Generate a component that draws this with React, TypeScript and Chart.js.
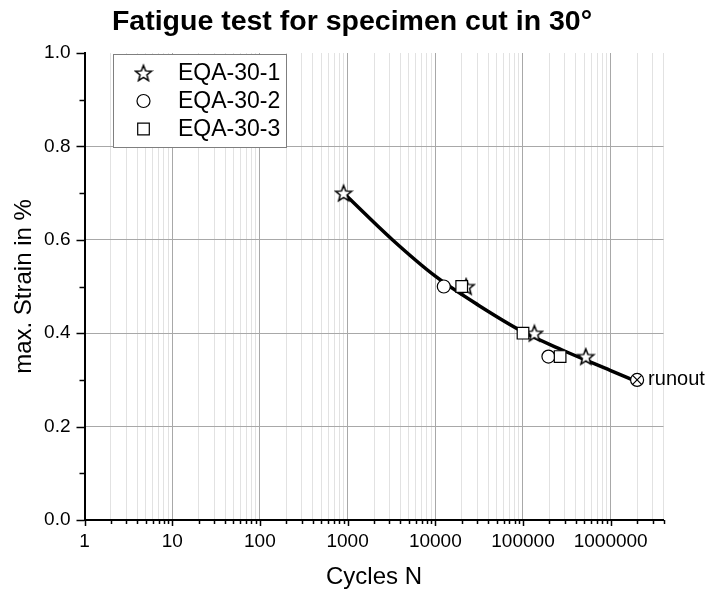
import React, { useEffect, useRef } from 'react';
import { Chart, registerables } from 'chart.js';

Chart.register(...registerables);

const TITLE = 'Fatigue test for specimen cut in 30°';
const X_TITLE = 'Cycles N';
const Y_TITLE = 'max. Strain in %';
const SERIES_NAMES = ['EQA-30-1', 'EQA-30-2', 'EQA-30-3'];
const RUNOUT_LABEL = 'runout';

// EQA-30-1 (stars)
const eqa1N = [900, 22500, 135000, 520000];
const eqa1S = [0.7, 0.5, 0.4, 0.35];
// EQA-30-2 (circles)
const eqa2N = [12500, 195000];
const eqa2S = [0.5, 0.35];
// EQA-30-3 (squares)
const eqa3N = [20000, 100000, 265000];
const eqa3S = [0.5, 0.4, 0.35];
// runout point
const runoutN = [2000000];
const runoutS = [0.3];
// fitted curve
const fitN = [900, 3240, 10000, 31000, 100000, 280000, 1000000, 2000000];
const fitS = [0.7, 0.6, 0.522, 0.46, 0.403, 0.364, 0.32, 0.296];

const X_MIN = 1;
const X_MAX = 4000000;
const xDecades = [1, 10, 100, 1000, 10000, 100000, 1000000];
const xMultipliers = [1, 2, 3, 4, 5, 6, 7, 8, 9];
const Y_MIN = 0;
const Y_MAX = 1;
const Y_STEP = 0.2;
const yMinorTicks = [0.1, 0.3, 0.5, 0.7, 0.9];

const FONT = "'Liberation Sans', Arial, sans-serif";

const xTickValues: number[] = [];
xDecades.forEach((d) => {
  xMultipliers.forEach((m) => {
    const v = m * d;
    if (v <= X_MAX) xTickValues.push(v);
  });
});

const isDecade = (v: number) => {
  const l = Math.log10(v);
  return Math.abs(l - Math.round(l)) < 1e-9;
};

function makeStar(): HTMLCanvasElement {
  const c = document.createElement('canvas');
  const s = 20;
  c.width = s;
  c.height = s;
  const ctx = c.getContext('2d')!;
  const cx = s / 2;
  const cy = s / 2 + 0.8;
  const R = 8.4;
  const r = 3.6;
  ctx.beginPath();
  for (let i = 0; i < 10; i++) {
    const rad = i % 2 === 0 ? R : r;
    const a = -Math.PI / 2 + (i * Math.PI) / 5;
    const x = cx + rad * Math.cos(a);
    const y = cy + rad * Math.sin(a);
    if (i === 0) ctx.moveTo(x, y);
    else ctx.lineTo(x, y);
  }
  ctx.closePath();
  ctx.fillStyle = '#ffffff';
  ctx.fill();
  ctx.lineJoin = 'miter';
  ctx.lineWidth = 1.5;
  ctx.strokeStyle = '#000000';
  ctx.stroke();
  return c;
}

const toPts = (xs: number[], ys: number[]) => xs.map((x, i) => ({ x, y: ys[i] }));

export default function App() {
  const ref = useRef<HTMLCanvasElement | null>(null);

  useEffect(() => {
    if (!ref.current) return;
    const star = makeStar();

    const overlay = {
      id: 'overlay',
      afterDraw(chart: any) {
        const ctx = chart.ctx as CanvasRenderingContext2D;
        const xs = chart.scales.x;
        const ys = chart.scales.y;
        const area = chart.chartArea;
        ctx.save();
        // title
        ctx.fillStyle = '#000';
        ctx.font = `bold 28.5px ${FONT}`;
        ctx.textAlign = 'center';
        ctx.textBaseline = 'middle';
        ctx.fillText(TITLE, 352, 22);

        // x ticks
        ctx.strokeStyle = '#000';
        ctx.lineWidth = 1.5;
        xTickValues.forEach((v) => {
          const px = Math.round(xs.getPixelForValue(v)) + 0.5;
          const len = isDecade(v) ? 6 : 4;
          ctx.beginPath();
          ctx.moveTo(px, area.bottom);
          ctx.lineTo(px, area.bottom + len);
          ctx.stroke();
        });
        // y ticks
        const yMajor: number[] = [];
        for (let v = Y_MIN; v <= Y_MAX + 1e-9; v += Y_STEP) yMajor.push(v);
        yMajor.forEach((v) => {
          const py = Math.round(ys.getPixelForValue(v)) + 0.5;
          ctx.beginPath();
          ctx.moveTo(area.left - 8, py);
          ctx.lineTo(area.left, py);
          ctx.stroke();
        });
        yMinorTicks.forEach((v) => {
          const py = Math.round(ys.getPixelForValue(v)) + 0.5;
          ctx.beginPath();
          ctx.moveTo(area.left - 5, py);
          ctx.lineTo(area.left, py);
          ctx.stroke();
        });

        // runout label
        const rx = xs.getPixelForValue(runoutN[0]);
        const ry = ys.getPixelForValue(runoutS[0]);
        ctx.fillStyle = '#000';
        ctx.font = `20px ${FONT}`;
        ctx.textAlign = 'left';
        ctx.textBaseline = 'middle';
        ctx.fillText(RUNOUT_LABEL, rx + 11, ry);

        // legend box
        const lx = 113.5, ly = 54.5, lw = 173, lh = 93;
        ctx.fillStyle = '#fff';
        ctx.fillRect(lx, ly, lw, lh);
        ctx.strokeStyle = '#7f7f7f';
        ctx.lineWidth = 1;
        ctx.strokeRect(lx, ly, lw, lh);
        const rows = [73, 101, 129];
        const mx = 143.5;
        // star
        ctx.drawImage(star, mx - star.width / 2, rows[0] - star.height / 2);
        // circle
        ctx.beginPath();
        ctx.arc(mx, rows[1], 6.5, 0, Math.PI * 2);
        ctx.fillStyle = '#fff';
        ctx.fill();
        ctx.strokeStyle = '#000';
        ctx.lineWidth = 1.2;
        ctx.stroke();
        // square
        ctx.beginPath();
        ctx.rect(mx - 5.8, rows[2] - 5.8, 11.6, 11.6);
        ctx.fill();
        ctx.stroke();
        ctx.fillStyle = '#000';
        ctx.font = `23px ${FONT}`;
        ctx.textAlign = 'left';
        ctx.textBaseline = 'middle';
        SERIES_NAMES.forEach((n, i) => ctx.fillText(n, 178, rows[i] + 1));
        ctx.restore();
      },
    };

    const chart = new Chart(ref.current, {
      type: 'scatter',
      data: {
        datasets: [
          {
            label: 'fit',
            data: toPts(fitN, fitS),
            showLine: true,
            borderColor: '#000',
            borderWidth: 3.5,
            pointRadius: 0,
            cubicInterpolationMode: 'monotone',
            order: 10,
          } as any,
          {
            label: SERIES_NAMES[0],
            data: toPts(eqa1N, eqa1S),
            pointStyle: star as any,
            pointRadius: 8,
            backgroundColor: '#fff',
            borderColor: '#000',
            order: 4,
          },
          {
            label: SERIES_NAMES[1],
            data: toPts(eqa2N, eqa2S),
            pointStyle: 'circle',
            pointRadius: 6.5,
            backgroundColor: '#fff',
            borderColor: '#000',
            borderWidth: 1.2,
            order: 3,
          },
          {
            label: SERIES_NAMES[2],
            data: toPts(eqa3N, eqa3S),
            pointStyle: 'rect',
            pointRadius: 8.2,
            backgroundColor: '#fff',
            borderColor: '#000',
            borderWidth: 1.2,
            order: 2,
          },
          {
            label: 'runout',
            data: toPts(runoutN, runoutS),
            pointStyle: 'circle',
            pointRadius: 6.5,
            backgroundColor: '#fff',
            borderColor: '#000',
            borderWidth: 1.2,
            order: 1,
          },
          {
            label: 'runout-x',
            data: toPts(runoutN, runoutS),
            pointStyle: 'crossRot',
            pointRadius: 6.3,
            borderColor: '#000',
            borderWidth: 1.2,
            order: 0,
          },
        ],
      },
      options: {
        animation: false,
        responsive: false,
        events: [],
        layout: { padding: { top: 53, left: 0, right: 44.5, bottom: 0 } },
        plugins: {
          legend: { display: false },
          tooltip: { enabled: false },
          title: { display: false },
        },
        scales: {
          x: {
            type: 'logarithmic',
            min: X_MIN,
            max: X_MAX,
            afterBuildTicks: (scale: any) => {
              scale.ticks = xTickValues.map((v) => ({ value: v }));
            },
            afterFit: (scale: any) => {
              scale.height = 73;
            },
            ticks: {
              autoSkip: false,
              maxRotation: 0,
              minRotation: 0,
              padding: 10,
              color: '#000',
              font: { family: FONT, size: 19 },
              callback: (v: any) => (isDecade(Number(v)) ? String(Math.round(Number(v))) : ''),
            },
            grid: {
              drawTicks: false,
              lineWidth: 1,
              color: (c: any) =>
                c.tick && isDecade(c.tick.value) ? '#a8a8a8' : '#e2e2e2',
            },
            border: { display: true, color: '#000', width: 2 },
            title: {
              display: true,
              text: X_TITLE,
              color: '#000',
              font: { family: FONT, size: 24 },
              padding: { top: 0, bottom: 1 },
            },
          },
          y: {
            type: 'linear',
            min: Y_MIN,
            max: Y_MAX,
            afterFit: (scale: any) => {
              scale.width = 84.5;
            },
            ticks: {
              stepSize: Y_STEP,
              padding: 14,
              color: '#000',
              font: { family: FONT, size: 19 },
              callback: (v: any) => Number(v).toFixed(1),
            },
            grid: {
              drawTicks: false,
              lineWidth: 1,
              color: (c: any) =>
                c.tick && c.tick.value > 0.01 && c.tick.value < 0.99 ? '#a8a8a8' : 'rgba(0,0,0,0)',
            },
            border: { display: true, color: '#000', width: 2 },
            title: {
              display: true,
              text: Y_TITLE,
              color: '#000',
              font: { family: FONT, size: 24 },
              padding: { top: 10, bottom: 0 },
            },
          },
        },
      },
      plugins: [overlay],
    });
    return () => chart.destroy();
  }, []);

  return (
    <div style={{ position: 'absolute', left: 0, top: 0, width: 708, height: 593, background: '#fff' }}>
      <canvas ref={ref} width={708} height={593} style={{ display: 'block' }} />
    </div>
  );
}
